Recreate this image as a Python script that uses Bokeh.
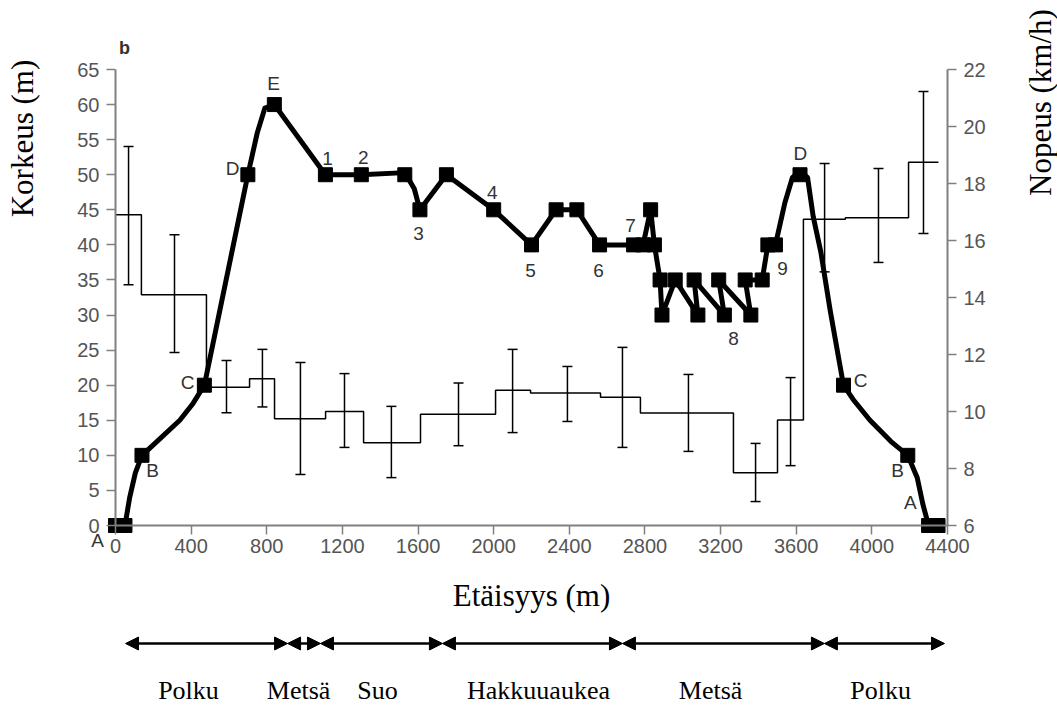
import math
from bokeh.plotting import figure
from bokeh.models import (Range1d, LinearAxis, FixedTicker, Whisker, TeeHead,
                          ColumnDataSource, Label, LabelSet, Arrow, NormalHead)
from bokeh.core.properties import value
from bokeh.embed import file_html
from bokeh.resources import INLINE

# ---------------- data ----------------
# elevation markers (distance m, height m)
marker_x = [0, 50, 140, 470, 700, 840, 1110, 1300, 1530, 1610, 1750, 2000, 2200, 2330, 2440,
            2560, 2740, 2790, 2830, 2850, 2880, 2890, 2960, 3080, 3060, 3220, 3190, 3360, 3330,
            3420, 3450, 3490, 3620, 3850, 4190, 4300, 4350]
marker_y = [0, 0, 10, 20, 50, 60, 50, 50, 50, 45, 50, 45, 40, 45, 45,
            40, 40, 40, 45, 40, 35, 30, 35, 30, 35, 30, 35, 30, 35,
            35, 40, 40, 50, 20, 10, 0, 0]

# elevation profile line as drawn (smoothed curve)
path_x = [0, 50, 75, 105, 140, 220, 340, 410, 470, 700, 750, 790, 840, 1110, 1300, 1530,
          1580, 1610, 1750, 2000, 2200, 2330, 2440, 2560, 2740, 2790, 2830, 2850, 2880, 2890,
          2960, 3080, 3060, 3220, 3190, 3360, 3330, 3420, 3450, 3490, 3540, 3580, 3620, 3660,
          3690, 3730, 3780, 3830, 3850, 3900, 3990, 4100, 4190, 4240, 4270, 4300, 4350]
path_y = [0, 0, 4, 7.5, 10, 12, 15, 17.4, 20, 50, 56, 59.5, 60, 50, 50, 50.3,
          48, 45, 50, 45, 40, 45, 45, 40, 40, 40, 45, 40, 35, 30,
          35, 30, 35, 30, 35, 30, 35, 35, 40, 40, 46, 49.6, 50.6, 49.6,
          44, 39, 30.6, 23, 20, 18, 15, 12, 10, 6.8, 3, 0, 0]

# point labels
pt_labels = ["A", "B", "C", "D", "E", "1", "2", "3", "4", "5", "6", "7", "8", "9",
             "D", "C", "B", "A"]
pt_label_x = [-95, 196, 381, 619, 836, 1121, 1311, 1602, 1993, 2195, 2554, 2724, 3268, 3527,
              3622, 3940, 4136, 4204]
pt_label_y = [-2.1, 7.8, 20.4, 50.9, 63.0, 52.3, 52.5, 41.6, 47.5, 36.4, 36.4, 42.8, 26.7, 36.6,
              53.0, 20.7, 7.8, 3.3]

# speed (km/h): step edges and levels
speed_edges = [0, 137, 481, 709, 841, 1111, 1312, 1613, 2010, 2195, 2565, 2776, 3268, 3501,
               3638, 3860, 4194, 4352]
speed_levels = [16.9, 14.1, 10.85, 11.15, 9.75, 10.0, 8.9, 9.9, 10.75, 10.65, 10.5, 9.95,
                7.85, 9.7, 16.75, 16.8, 18.75]

# error bars of speed
err_x = [69, 312, 587, 777, 978, 1211, 1459, 1814, 2100, 2390, 2681, 3030, 3385, 3570, 3750,
         4035, 4273]
err_upper = [19.3, 16.2, 11.79, 12.18, 11.72, 11.33, 10.18, 11.0, 12.18, 11.58, 12.25, 11.3,
             8.88, 11.19, 18.7, 18.53, 21.23]
err_lower = [14.45, 12.07, 9.96, 10.16, 7.79, 8.74, 7.68, 8.8, 9.26, 9.65, 8.74, 8.6,
             6.84, 8.1, 14.9, 15.23, 16.25]

# axes
x_min, x_max = 0, 4400
y_min, y_max = 0, 65
s_min, s_max = 6, 22
x_ticks = [0, 400, 800, 1200, 1600, 2000, 2400, 2800, 3200, 3600, 4000, 4400]
y_ticks = [0, 5, 10, 15, 20, 25, 30, 35, 40, 45, 50, 55, 60, 65]
speed_ticks = [6, 8, 10, 12, 14, 16, 18, 20, 22]

# habitat sections along the route
hab_start = [53, 910, 1084, 1729, 2681, 3749]
hab_end = [910, 1084, 1729, 2681, 3749, 4384]
hab_names = ["Polku", "Metsä", "Suo", "Hakkuuaukea", "Metsä", "Polku"]
hab_label_x = [386, 968, 1386, 2237, 3147, 4046]

panel_label = "b"
y_label = "Korkeus (m)"
y2_label = "Nopeus (km/h)"
x_label = "Etäisyys (m)"

# ---------------- layout (pixel geometry of the page) ----------------
W, H = 1057, 707
AX_L, AX_R = 115, 947        # canvas x of distance 0 and 4400
AX_B, AX_T = 525, 69         # canvas y of height 0 and 65
mx = (x_max - x_min) / (AX_R - AX_L)      # metres per pixel
my = (y_max - y_min) / (AX_B - AX_T)      # height units per pixel
k = (s_max - s_min) / (y_max - y_min)     # speed units per height unit


def cx(px):
    return x_min + (px - AX_L) * mx


def cy(py):
    return y_min + (AX_B - py) * my


p = figure(width=W, height=H, x_range=Range1d(cx(0), cx(W)), y_range=Range1d(cy(H), cy(0)),
           output_backend="svg", toolbar_location=None,
           x_axis_location=None, y_axis_location=None,
           min_border_left=0, min_border_right=0, min_border_top=0, min_border_bottom=0)
p.extra_y_ranges = {"speed": Range1d(s_min + cy(H) * k, s_min + cy(0) * k)}
p.grid.visible = False
p.outline_line_color = None
p.background_fill_color = "white"
p.border_fill_color = "white"


def style_axis(ax):
    ax.axis_line_color = "#808080"
    ax.axis_line_width = 2
    ax.major_tick_line_color = "#808080"
    ax.major_tick_line_width = 1.5
    ax.major_tick_out = 9
    ax.major_tick_in = 0
    ax.minor_tick_line_color = None
    ax.major_label_text_font = "Liberation Sans"
    ax.major_label_text_font_size = "20px"
    ax.major_label_text_color = "#555555"
    ax.major_label_standoff = 7


xaxis = LinearAxis(fixed_location=y_min, bounds=(x_min, x_max), ticker=FixedTicker(ticks=x_ticks))
style_axis(xaxis)
xaxis.major_label_standoff = 4
p.add_layout(xaxis, "below")

yaxis = LinearAxis(fixed_location=x_min, bounds=(y_min, y_max), ticker=FixedTicker(ticks=y_ticks))
style_axis(yaxis)
p.add_layout(yaxis, "left")

raxis = LinearAxis(y_range_name="speed", fixed_location=x_max, bounds=(s_min, s_max),
                   ticker=FixedTicker(ticks=speed_ticks))
style_axis(raxis)
p.add_layout(raxis, "right")

# speed step line
step_y = speed_levels + [speed_levels[-1]]
p.step(x=speed_edges, y=step_y, mode="after", line_color="black", line_width=1.5,
       y_range_name="speed")

err_src = ColumnDataSource(dict(x=err_x, upper=err_upper, lower=err_lower))
wh = Whisker(base="x", upper="upper", lower="lower", source=err_src, y_range_name="speed",
             line_color="black", line_width=1.5,
             upper_head=TeeHead(size=10, line_color="black", line_width=1.5),
             lower_head=TeeHead(size=10, line_color="black", line_width=1.5))
p.add_layout(wh)

# elevation profile
p.line(path_x, path_y, line_color="black", line_width=5, line_join="round")
p.scatter(marker_x, marker_y, marker="square", size=14, fill_color="black", line_color="black")

lab_src = ColumnDataSource(dict(x=pt_label_x, y=pt_label_y, t=pt_labels))
p.add_layout(LabelSet(x="x", y="y", text="t", source=lab_src, text_align="center",
                      text_baseline="middle", text_font=value("Liberation Sans"),
                      text_font_size=value("19px"), text_color="#333333"))

# titles
p.add_layout(Label(x=cx(124), y=cy(47), text=panel_label, text_align="center",
                   text_baseline="middle", text_font="Liberation Sans", text_font_size="18px",
                   text_font_style="bold", text_color="#333333"))
p.add_layout(Label(x=cx(22), y=cy(138), text=y_label, angle=math.pi / 2,
                   text_align="center", text_baseline="middle",
                   text_font="Liberation Serif", text_font_size="31px", text_color="black"))
p.add_layout(Label(x=cx(1040), y=cy(102), text=y2_label, angle=math.pi / 2,
                   text_align="center", text_baseline="middle",
                   text_font="Liberation Serif", text_font_size="31px", text_color="black"))
p.add_layout(Label(x=(x_min + x_max) / 2, y=cy(595), text=x_label,
                   text_align="center", text_baseline="middle",
                   text_font="Liberation Serif", text_font_size="31px", text_color="black"))

# habitat arrows and names
for a, b in zip(hab_start, hab_end):
    p.add_layout(Arrow(x_start=a, y_start=cy(643), x_end=b, y_end=cy(643), line_width=2.5,
                       line_color="black",
                       start=NormalHead(size=13, fill_color="black", line_color="black"),
                       end=NormalHead(size=13, fill_color="black", line_color="black")))

p.text(x=hab_label_x, y=[cy(690)] * len(hab_names), text=hab_names,
       text_font=value("Liberation Serif"), text_font_size="26px",
       text_align="center", text_baseline="middle", text_color="black")

open("out.html", "w").write(file_html(p, INLINE))
